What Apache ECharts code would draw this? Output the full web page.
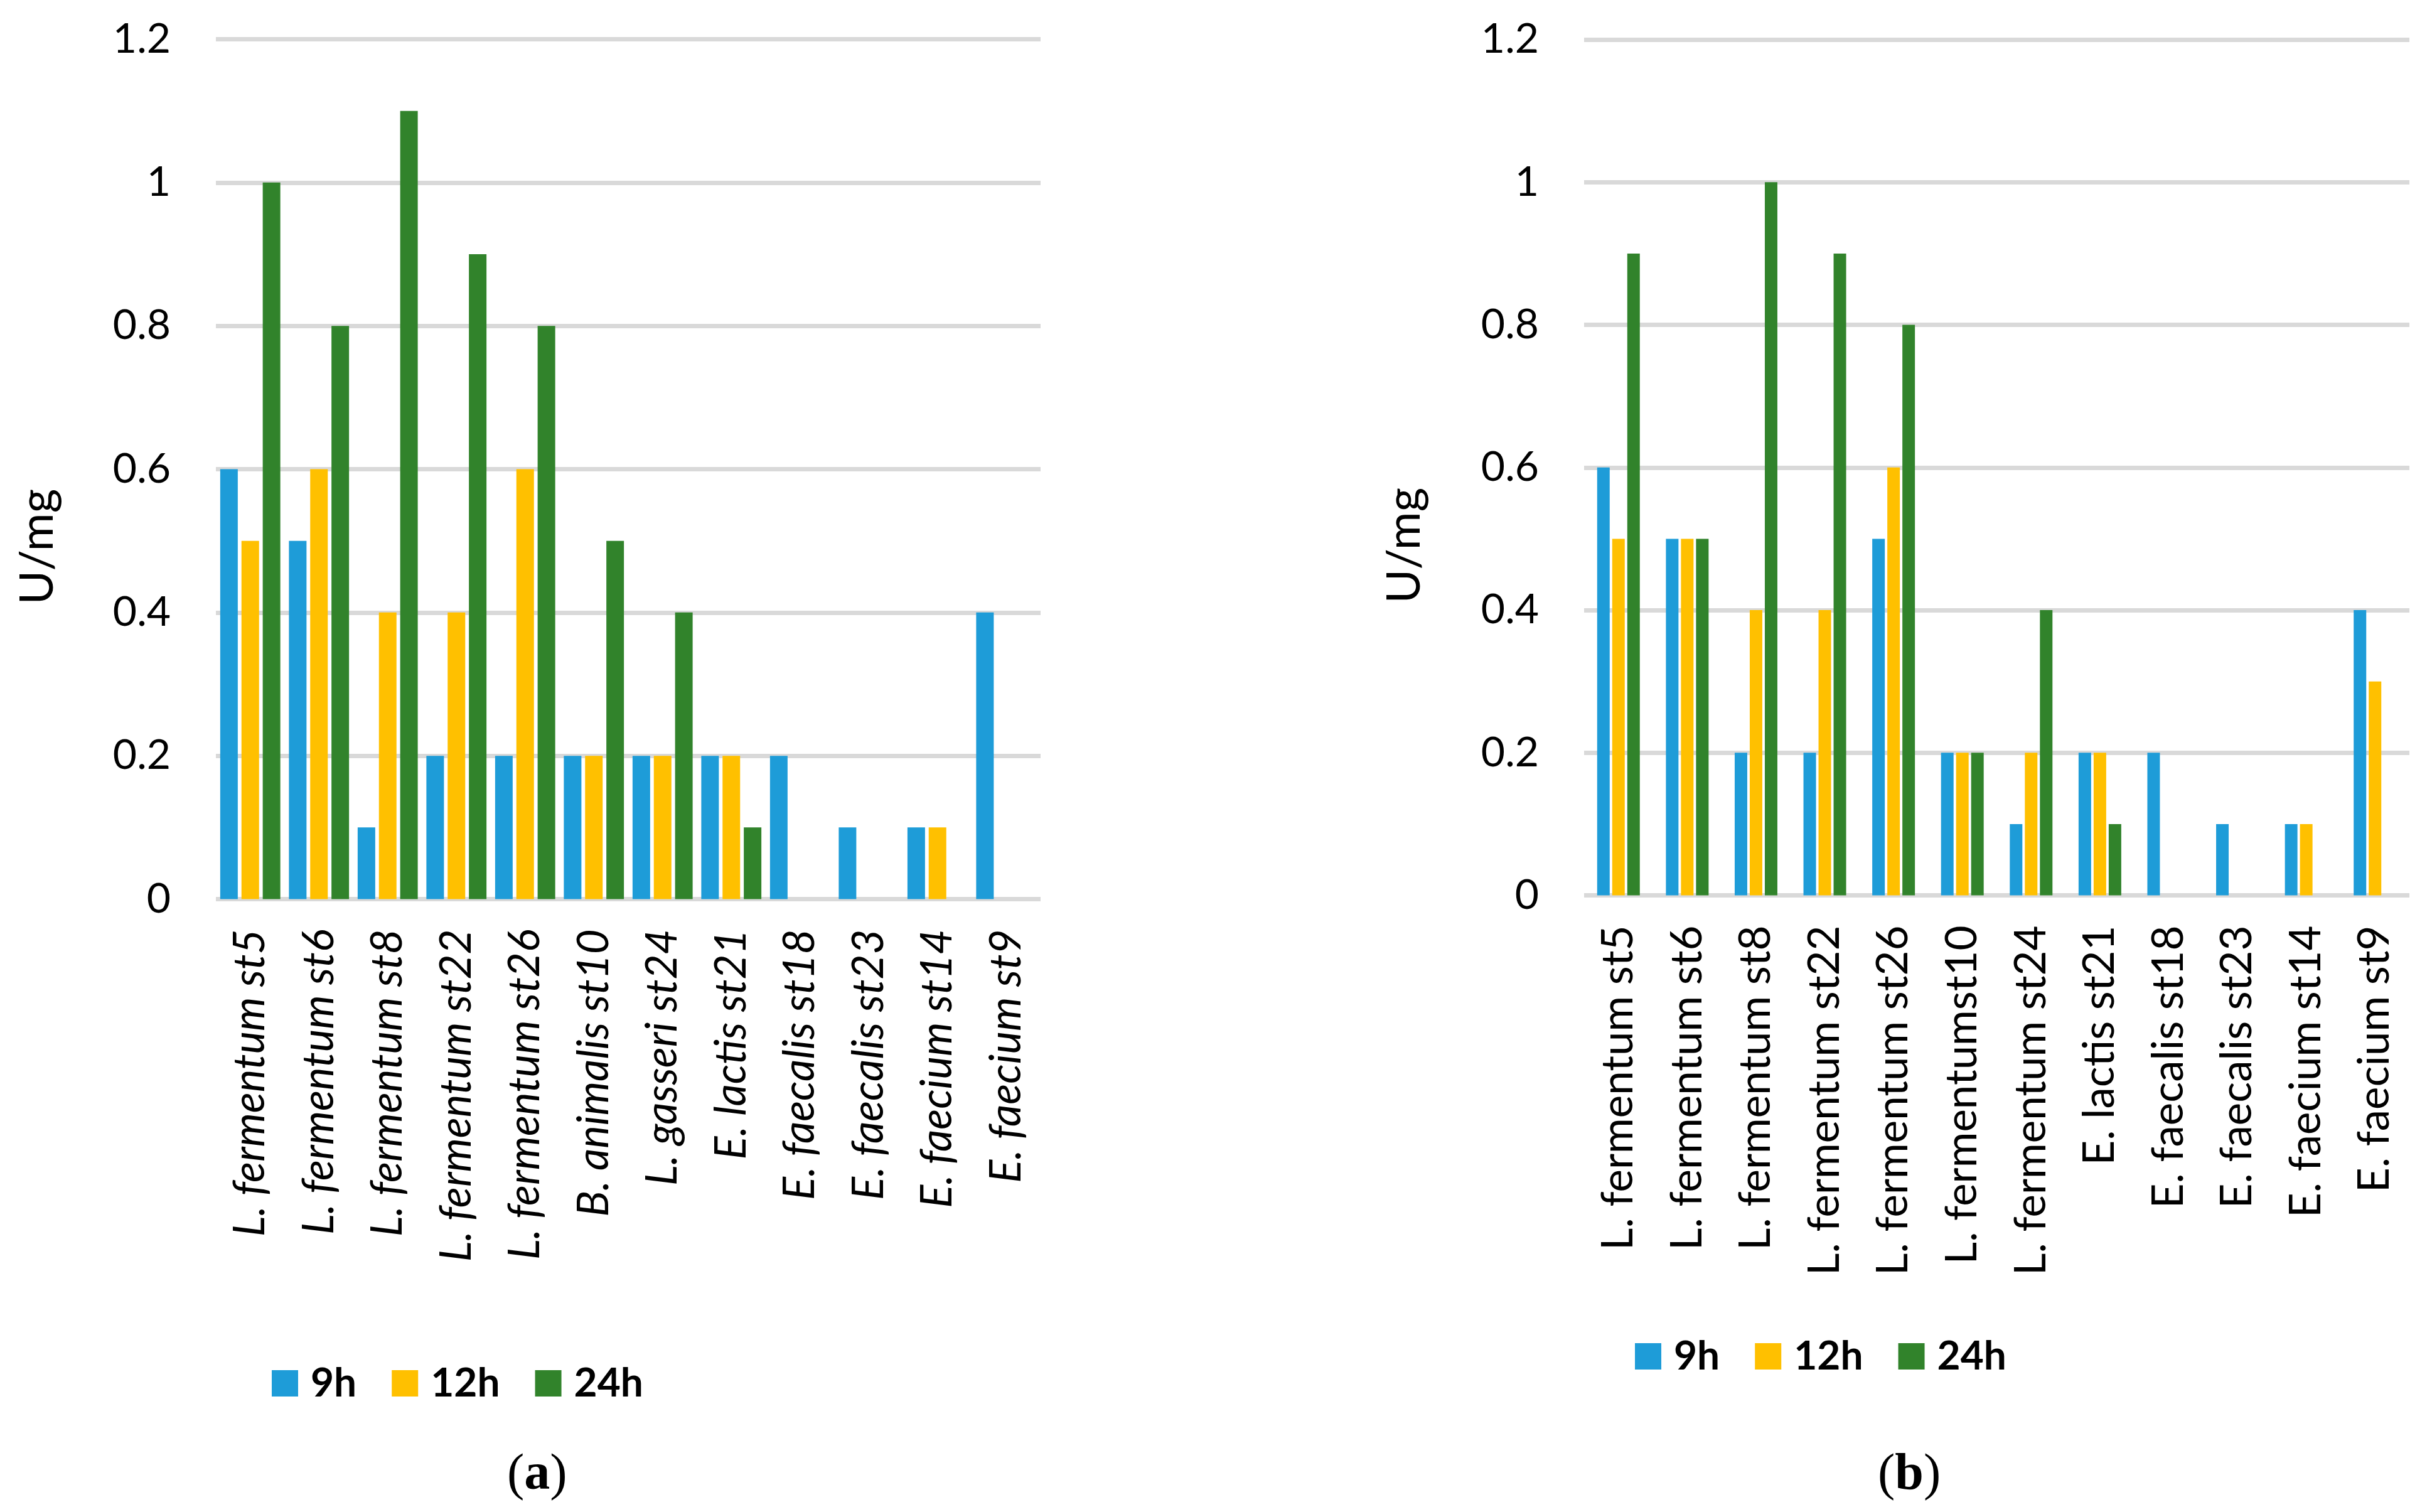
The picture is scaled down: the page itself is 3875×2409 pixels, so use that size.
<!DOCTYPE html>
<html>
<head>
<meta charset="utf-8">
<script src="https://cdn.jsdelivr.net/npm/echarts@6/dist/echarts.min.js"></script>
<style>
html,body{margin:0;padding:0;background:#fff;}
#chart{width:3875px;height:2409px;}
</style>
</head>
<body>
<div id="chart"></div>
<script>
// ---- data ----
const categoriesA = ['L. fermentum st5','L. fermentum st6','L. fermentum st8','L. fermentum st22','L. fermentum st26','B. animalis st10','L. gasseri st24','E. lactis st21','E. faecalis st18','E. faecalis st23','E. faecium st14','E. faecium st9'];
const h9A  = [0.6,0.5,0.1,0.2,0.2,0.2,0.2,0.2,0.2,0.1,0.1,0.4];
const h12A = [0.5,0.6,0.4,0.4,0.6,0.2,0.2,0.2,0,0,0.1,0];
const h24A = [1.0,0.8,1.1,0.9,0.8,0.5,0.4,0.1,0,0,0,0];

const categoriesB = ['L. fermentum st5','L. fermentum st6','L. fermentum st8','L. fermentum st22','L. fermentum st26','L. fermentumst10','L. fermentum st24','E. lactis st21','E. faecalis st18','E. faecalis st23','E. faecium st14','E. faecium st9'];
const h9B  = [0.6,0.5,0.2,0.2,0.5,0.2,0.1,0.2,0.2,0.1,0.1,0.4];
const h12B = [0.5,0.5,0.4,0.4,0.6,0.2,0.2,0.2,0,0,0.1,0.3];
const h24B = [0.9,0.5,1.0,0.9,0.8,0.2,0.4,0.1,0,0,0,0];

const seriesNames = ['9h','12h','24h'];
const yTitle = 'U/mg';
const panelLabels = ['a','b'];
// ---------------

const colors = ['#1E9CD8','#FFC000','#31832B'];
const chart = echarts.init(document.getElementById('chart'), null, {renderer:'canvas'});

function yAxis(idx){
  return {
    gridIndex: idx, type:'value', min:0, max:1.2, interval:0.2,
    axisLine:{show:false}, axisTick:{show:false},
    axisLabel:{fontFamily:'Lato', fontSize:66, color:'#000', margin:72},
    splitLine:{show:true, lineStyle:{color:'#D9D9D9', width:7}}
  };
}
function xAxis(idx, cats, italic){
  return {
    gridIndex: idx, type:'category', data: cats,
    axisLine:{show:false}, axisTick:{show:false},
    axisLabel:{interval:0, rotate:90, fontFamily:'Lato', fontStyle: italic?'italic':'normal', fontSize:69, color:'#000', margin:48}
  };
}
function bars(name, data, idx, color, width, gap){
  return {name, type:'bar', xAxisIndex:idx, yAxisIndex:idx, data,
    itemStyle:{color}, barWidth:width, barGap:gap, animation:false};
}
function legend(left, top){
  return {
    data: seriesNames, left, top, padding:0, orient:'horizontal',
    icon:'rect', itemWidth:42, itemHeight:42, itemGap:56,
    textStyle:{fontFamily:'Lato', fontWeight:'bold', fontSize:64, color:'#000', padding:[0,0,0,15]}
  };
}
function yTitleText(x, y){
  return {type:'text', x, y, rotation:Math.PI/2,
    style:{text:yTitle, fontFamily:'Lato', fontSize:74, fill:'#000', align:'center', verticalAlign:'middle'}};
}
function panelText(cx, top, lab){
  return {type:'text', left:cx, top, style:{text:'{n|(}{b|' + lab + '}{n|)}', rich:{
      n:{fontFamily:'Liberation Serif', fontSize:82, fill:'#000'},
      b:{fontFamily:'Liberation Serif', fontSize:82, fontWeight:'bold', fill:'#000'}}}};
}

const option = {
  backgroundColor:'#fff',
  animation:false,
  grid:[
    {left:344, right:3875-1658, top:62.5, bottom:2409-1432.5},
    {left:2524, right:3875-3839, top:63, bottom:2409-1426.5}
  ],
  xAxis:[xAxis(0, categoriesA, true), xAxis(1, categoriesB, false)],
  yAxis:[yAxis(0), yAxis(1)],
  legend:[legend(433, 2172), legend(2605, 2129)],
  series:[
    bars(seriesNames[0], h9A, 0, colors[0], 28, '21%'),
    bars(seriesNames[1], h12A, 0, colors[1], 28, '21%'),
    bars(seriesNames[2], h24A, 0, colors[2], 28, '21%'),
    bars(seriesNames[0], h9B, 1, colors[0], 20, '20%'),
    bars(seriesNames[1], h12B, 1, colors[1], 20, '20%'),
    bars(seriesNames[2], h24B, 1, colors[2], 20, '20%')
  ],
  graphic:[
    yTitleText(60, 871),
    yTitleText(2238, 869),
    panelText(808, 2310, panelLabels[0]),
    panelText(2992, 2310, panelLabels[1])
  ]
};
chart.setOption(option);
</script>
</body>
</html>
